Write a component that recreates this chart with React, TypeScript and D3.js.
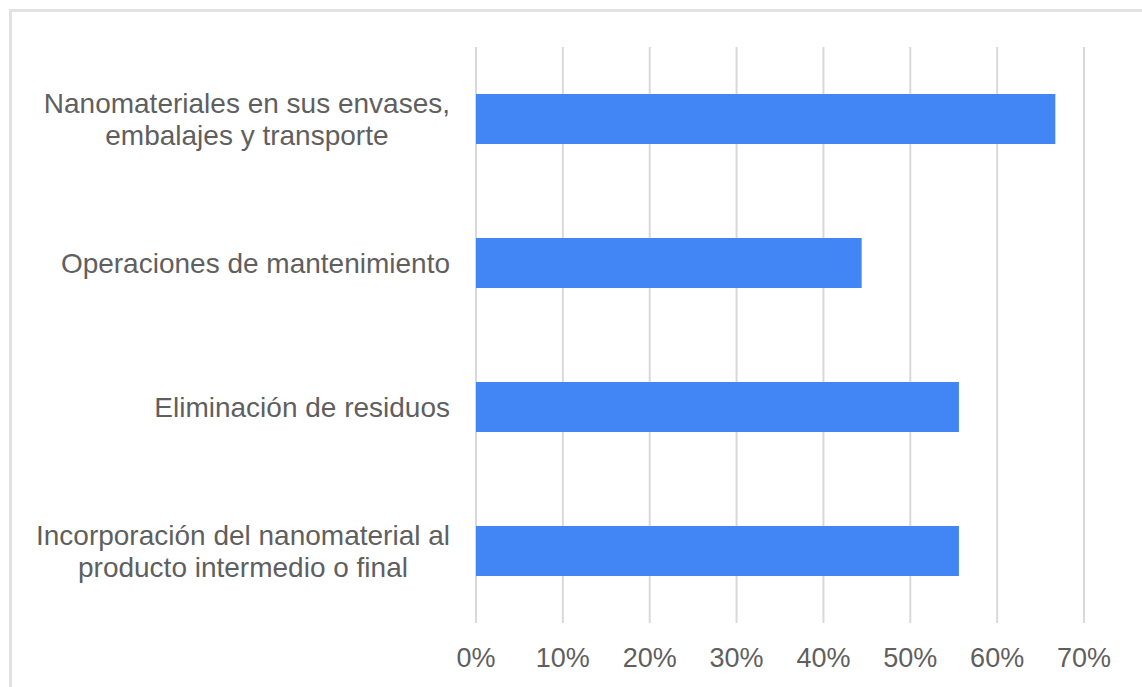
import React, { useEffect, useRef } from "react";
import * as d3 from "d3";

const categories: string[] = [
  "Nanomateriales en sus envases,\nembalajes y transporte",
  "Operaciones de mantenimiento",
  "Eliminación de residuos",
  "Incorporación del nanomaterial al\nproducto intermedio o final",
];
const values: number[] = [0.667, 0.444, 0.556, 0.556];
const xTicks: number[] = [0, 0.1, 0.2, 0.3, 0.4, 0.5, 0.6, 0.7];

const W = 1142;
const H = 687;

export default function App() {
  const ref = useRef<SVGSVGElement | null>(null);

  useEffect(() => {
    const svg = d3.select(ref.current);
    svg.selectAll("*").remove();

    const left = 476;
    const right = 1084;
    const top = 47;
    const bottom = 623;

    const x = d3.scaleLinear().domain([0, 0.7]).range([left, right]);
    const y = d3
      .scaleBand<string>()
      .domain(categories)
      .range([top, bottom])
      .paddingInner(0.653)
      .paddingOuter(0.3265);

    // frame
    svg
      .append("path")
      .attr("d", `M10.5,${H} L10.5,10.5 L${W},10.5`)
      .attr("fill", "none")
      .attr("stroke", "#e2e2e2")
      .attr("stroke-width", 3);

    // gridlines
    svg
      .append("g")
      .selectAll("line")
      .data(xTicks)
      .join("line")
      .attr("x1", (d) => x(d))
      .attr("x2", (d) => x(d))
      .attr("y1", top)
      .attr("y2", bottom)
      .attr("stroke", "#d9d9d9")
      .attr("stroke-width", 2);

    // bars
    svg
      .append("g")
      .selectAll("rect")
      .data(categories)
      .join("rect")
      .attr("x", x(0))
      .attr("y", (d) => y(d) as number)
      .attr("width", (_d, i) => x(values[i]) - x(0))
      .attr("height", y.bandwidth())
      .attr("fill", "#4285f4");

    // tick labels
    const fmt = d3.format(".0%");
    svg
      .append("g")
      .selectAll("text")
      .data(xTicks)
      .join("text")
      .attr("x", (d) => x(d))
      .attr("y", 667)
      .attr("text-anchor", "middle")
      .attr("font-family", "'Liberation Sans', Arial, sans-serif")
      .attr("font-size", 27)
      .attr("fill", "#5f5f5f")
      .text((d) => fmt(d));

    // category labels
    const labelRight = 450;
    const lineGap = 32;
    categories.forEach((cat) => {
      const lines = cat.split("\n");
      const cy = (y(cat) as number) + y.bandwidth() / 2;
      const g = svg.append("g");
      const texts = g
        .selectAll("text")
        .data(lines)
        .join("text")
        .attr("font-family", "'Liberation Sans', Arial, sans-serif")
        .attr("font-size", 28)
        .attr("fill", "#5f5f5f")
        .attr("y", (_d, i) => cy + 10 + (i - (lines.length - 1) / 2) * lineGap)
        .text((d) => d);
      let maxW = 0;
      texts.each(function () {
        const w = (this as SVGTextElement).getComputedTextLength();
        if (w > maxW) maxW = w;
      });
      texts
        .attr("x", labelRight - maxW / 2)
        .attr("text-anchor", "middle");
    });
  }, []);

  return (
    <svg
      ref={ref}
      width={W}
      height={H}
      style={{ position: "absolute", left: 0, top: 0, background: "#ffffff" }}
    />
  );
}
